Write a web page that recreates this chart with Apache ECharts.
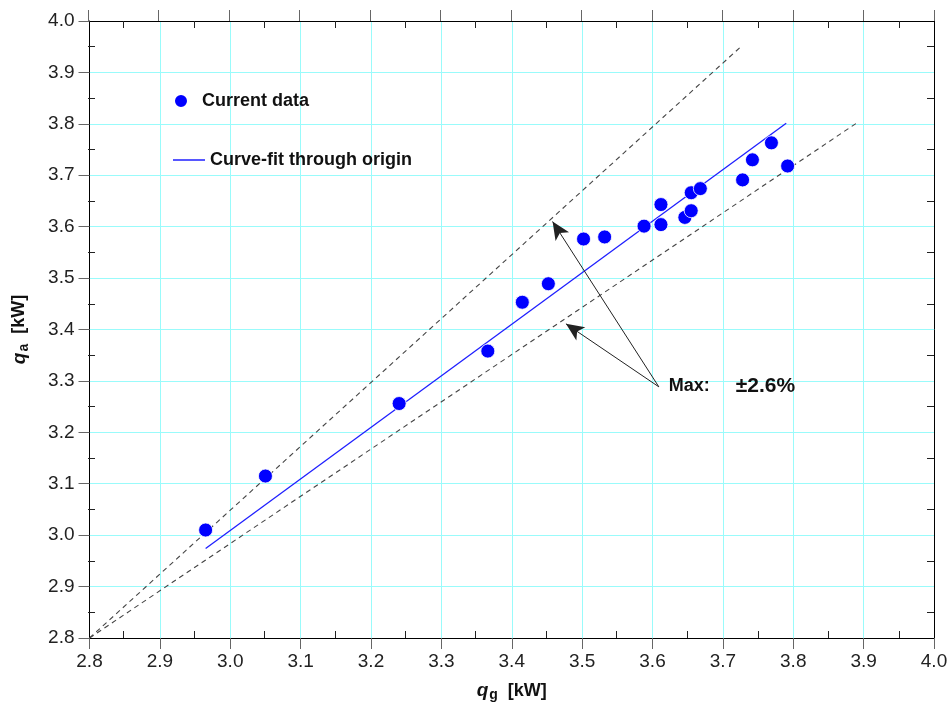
<!DOCTYPE html>
<html>
<head>
<meta charset="utf-8">
<script src="https://cdn.jsdelivr.net/npm/echarts@6/dist/echarts.min.js"></script>
<style>html,body{margin:0;padding:0;background:#fff}#c{width:951px;height:709px}</style>
</head>
<body>
<div id="c"></div>
<script>
// measured data (q_g, q_a) in kW
const qg = [2.965, 3.050, 3.240, 3.366, 3.415, 3.452, 3.502, 3.532, 3.588, 3.612, 3.612, 3.646, 3.655, 3.655, 3.668, 3.728, 3.742, 3.769, 3.792];
const qa = [3.010, 3.115, 3.256, 3.358, 3.453, 3.489, 3.576, 3.580, 3.601, 3.604, 3.643, 3.618, 3.631, 3.666, 3.674, 3.691, 3.730, 3.763, 3.718];
// curve fit through origin (end points)
const fitX = [2.965, 3.790];
const fitY = [2.974, 3.801];
// dashed bounding lines
const upperX = [2.8, 3.728];
const upperY = [2.8, 3.953];
const lowerX = [2.8, 3.8925];
const lowerY = [2.8, 3.8037];
// annotation arrows: base point and tips
const arrowBase = [3.609, 3.2885];
const arrowTips = [[3.458, 3.610], [3.477, 3.411]];
const annotationPos = [3.623, 3.2904];
const annotationText = ['Max:', '±2.6%'];
// axis
const axisMin = 2.8, axisMax = 4.0, axisStep = 0.1;

const scatterData = qg.map((x, i) => [x, qa[i]]);
const fitData = fitX.map((x, i) => [x, fitY[i]]);
const upperData = upperX.map((x, i) => [x, upperY[i]]);
const lowerData = lowerX.map((x, i) => [x, lowerY[i]]);

const FONT = '"Liberation Sans", Arial, sans-serif';
const gridRect = {left: 88, right: 17, top: 21, bottom: 71};
const grids = [0, 1, 2, 3].map(() => Object.assign({containLabel: false}, gridRect));

function baseAxis(extra) {
  return Object.assign({
    type: 'value', min: axisMin, max: axisMax, interval: axisStep,
    axisLine: {show: false}, axisTick: {show: false}, axisLabel: {show: false},
    splitLine: {show: false}, minorTick: {show: false}
  }, extra);
}
const cyan = '#99fbfb';
const nameRich = {
  q: {fontFamily: FONT, fontSize: 19, fontStyle: 'italic', fontWeight: 'bold', color: '#111', lineHeight: 24},
  s: {fontFamily: FONT, fontSize: 14, fontWeight: 'bold', color: '#111', lineHeight: 24, padding: [9, 0, 0, 1]},
  u: {fontFamily: FONT, fontSize: 18, fontWeight: 'bold', color: '#111', lineHeight: 24}
};
const tickLabel = {show: true, fontFamily: FONT, fontSize: 19, color: '#222', formatter: v => v.toFixed(1)};

const xAxes = [
  baseAxis({gridIndex: 0, position: 'bottom',
    axisLine: {show: true, onZero: false, lineStyle: {color: '#000', width: 1}},
    axisTick: {show: true, inside: false, length: 11, lineStyle: {color: '#666'}},
    axisLabel: Object.assign({margin: 14}, tickLabel),
    splitLine: {show: true, lineStyle: {color: cyan, width: 1}},
    name: '{q|q}{s|g}{u|  [kW]}', nameLocation: 'middle', nameGap: 41,
    nameTextStyle: {rich: nameRich}
  }),
  baseAxis({gridIndex: 1, position: 'top',
    axisLine: {show: true, onZero: false, lineStyle: {color: '#000', width: 1}},
    axisTick: {show: true, inside: false, length: 11, lineStyle: {color: '#666'}}
  }),
  baseAxis({gridIndex: 2, position: 'bottom',
    axisTick: {show: false, inside: true},
    minorTick: {show: true, splitNumber: 2, length: 7, lineStyle: {color: '#222', width: 1}}
  }),
  baseAxis({gridIndex: 3, position: 'top',
    axisTick: {show: false, inside: true},
    minorTick: {show: true, splitNumber: 2, length: 7, lineStyle: {color: '#222', width: 1}}
  })
];
const yAxes = [
  baseAxis({gridIndex: 0, position: 'left',
    axisLine: {show: true, onZero: false, lineStyle: {color: '#000', width: 1}},
    axisTick: {show: true, inside: false, length: 11, lineStyle: {color: '#666'}},
    axisLabel: Object.assign({margin: 15}, tickLabel),
    splitLine: {show: true, lineStyle: {color: cyan, width: 1}},
    name: '{q|q}{s|a}{u|  [kW]}', nameLocation: 'middle', nameGap: 58,
    nameTextStyle: {rich: nameRich}
  }),
  baseAxis({gridIndex: 1, position: 'right',
    axisLine: {show: true, onZero: false, lineStyle: {color: '#000', width: 1}},
    axisTick: {show: false, inside: true},
    minorTick: {show: true, splitNumber: 2, length: 7, lineStyle: {color: '#222', width: 1}}
  }),
  baseAxis({gridIndex: 2, position: 'left',
    axisTick: {show: false, inside: true},
    minorTick: {show: true, splitNumber: 2, length: 7, lineStyle: {color: '#222', width: 1}}
  }),
  baseAxis({gridIndex: 3, position: 'right'})
];

const legendText = {fontFamily: FONT, fontSize: 18, fontWeight: 'bold', color: '#111'};

const option = {
  backgroundColor: '#fff',
  animation: false,
  grid: grids,
  xAxis: xAxes,
  yAxis: yAxes,
  legend: [
    {left: 168, top: 87, itemWidth: 32, itemHeight: 14, itemGap: 0, textStyle: legendText,
     data: [{name: 'Current data', icon: 'circle'}]},
    {left: 168, top: 145, itemWidth: 32, itemHeight: 1.5, itemGap: 0, padding: [5, 5, 5, 5],
     textStyle: Object.assign({lineHeight: 20}, legendText),
     data: [{name: 'Curve-fit through origin', icon: 'rect'}]}
  ],
  series: [
    {name: 'Upper bound', type: 'line', data: upperData, symbol: 'none', silent: true,
     lineStyle: {color: '#444', width: 1.1, type: [5, 4]}, z: 2},
    {name: 'Lower bound', type: 'line', data: lowerData, symbol: 'none', silent: true,
     lineStyle: {color: '#444', width: 1.1, type: [5, 4]}, z: 2},
    {name: 'Curve-fit through origin', type: 'line', data: fitData, symbol: 'none', showSymbol: false,
     lineStyle: {color: '#1f1fff', width: 1.3}, itemStyle: {color: '#1f1fff'}, z: 3,
     markLine: {
       silent: true, symbol: ['none', 'arrow'], symbolSize: [12, 18],
       label: {show: false},
       lineStyle: {color: '#222', width: 1, type: 'solid'},
       data: arrowTips.map(t => [{coord: arrowBase}, {coord: t}])
     },
     markPoint: {
       symbol: 'circle', symbolSize: 0,
       data: [{coord: annotationPos}],
       label: {show: true, position: 'right', distance: 0,
         formatter: '{a|' + annotationText[0] + '}{b|' + annotationText[1] + '}',
         rich: {
           a: {fontFamily: FONT, fontSize: 18, fontWeight: 'bold', color: '#111'},
           b: {fontFamily: FONT, fontSize: 21, fontWeight: 'bold', color: '#111', padding: [0, 0, 0, 26]}
         }}
     }},
    {name: 'Current data', type: 'scatter', data: scatterData, symbolSize: 14,
     itemStyle: {color: '#0000ff', borderColor: '#ffffff', borderWidth: 0.8, opacity: 1}, z: 4}
  ]
};
echarts.init(document.getElementById('c')).setOption(option);
</script>
</body>
</html>
